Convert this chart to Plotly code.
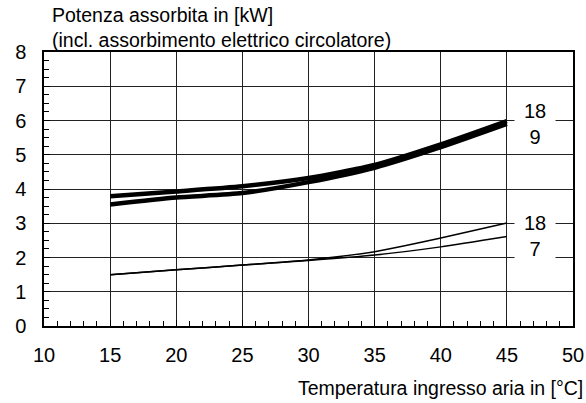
import plotly.graph_objects as go

# temperatura ingresso aria [°C]
temp = [15, 20, 25, 30, 35, 40, 45]

# potenza assorbita [kW]
thick_18 = [3.79, 3.93, 4.08, 4.32, 4.70, 5.30, 5.98]
thick_9 = [3.55, 3.75, 3.88, 4.20, 4.62, 5.22, 5.90]
thin_18 = [1.50, 1.64, 1.78, 1.93, 2.17, 2.57, 3.01]
thin_7 = [1.50, 1.64, 1.78, 1.91, 2.07, 2.31, 2.61]

x_ticks = [10, 15, 20, 25, 30, 35, 40, 45, 50]
y_ticks = [0, 1, 2, 3, 4, 5, 6, 7, 8]

FONT = "Liberation Sans, Arial, sans-serif"

fig = go.Figure()
for ys, w in [(thick_18, 4.5), (thick_9, 4.5), (thin_18, 1.5), (thin_7, 1.5)]:
    fig.add_trace(go.Scatter(
        x=temp, y=ys, mode="lines",
        line=dict(color="black", width=w, shape="spline", smoothing=0.6),
        showlegend=False, hoverinfo="skip",
    ))

_AXIS = dict(
    showgrid=True, gridcolor="#222", gridwidth=1,
    zeroline=False, automargin=False,
    showline=True, linecolor="black", linewidth=1.5, mirror=True,
    ticks="inside", ticklen=6, tickcolor="black",
    tickmode="linear", ticklabeloverflow="allow",
    tickfont=dict(family=FONT, size=20, color="black"),
)

fig.update_layout(
    width=586, height=403,
    paper_bgcolor="white", plot_bgcolor="white",
    margin=dict(l=44, r=13, t=52, b=77),
    font=dict(family=FONT, color="black"),
    xaxis=dict(**_AXIS, range=[x_ticks[0], x_ticks[-1]], tick0=x_ticks[0],
               dtick=x_ticks[1] - x_ticks[0],
               minor=dict(dtick=1, ticks="inside", ticklen=5, tickcolor="black"),
               ticklabelstandoff=10),
    yaxis=dict(**_AXIS, range=[y_ticks[0], y_ticks[-1]], tick0=y_ticks[0],
               dtick=y_ticks[1] - y_ticks[0],
               minor=dict(dtick=0.25, ticks="inside", ticklen=5, tickcolor="black"),
               ticklabelstandoff=12),
    annotations=[
        dict(text="Potenza assorbita in [kW]<br>(incl. assorbimento elettrico circolatore)",
             xref="paper", yref="paper", x=0.0, y=1.0, xanchor="left", yanchor="bottom",
             align="left", showarrow=False, xshift=6, yshift=-1,
             font=dict(family=FONT, size=19.5, color="black")),
        dict(text="Temperatura ingresso aria in [°C]",
             xref="paper", yref="paper", x=1.0, y=0, xanchor="right", yanchor="middle",
             align="right", showarrow=False, xshift=12, yshift=-62,
             font=dict(family=FONT, size=19.5, color="black")),
        dict(text="18<br>9", x=47.15, y=5.89, showarrow=False, bgcolor="white",
             width=38, font=dict(family=FONT, size=20, color="black")),
        dict(text="18<br>7", x=47.15, y=2.62, showarrow=False, bgcolor="white",
             width=38, font=dict(family=FONT, size=20, color="black")),
    ],
)

fig.write_html("out.html", config={"displayModeBar": False},
               post_script="document.body.style.margin='0';")
